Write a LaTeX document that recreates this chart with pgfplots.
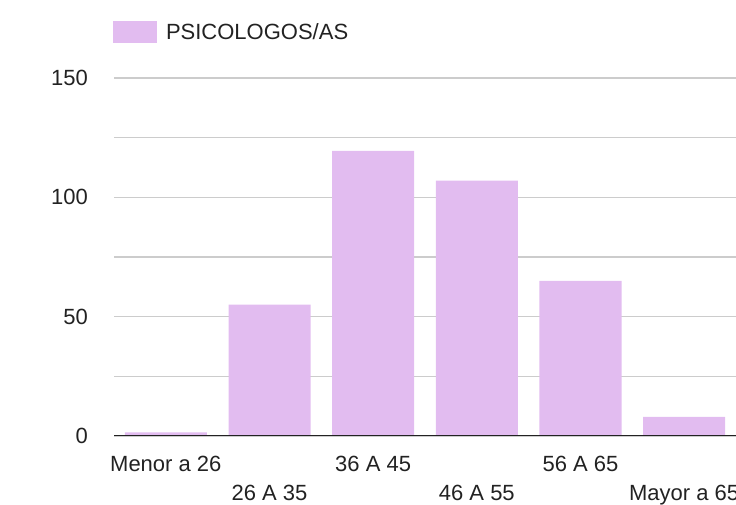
\documentclass[border=0pt]{standalone}
\usepackage{fontspec}
\setmainfont{Liberation Sans}
\usepackage{pgfplots}
\pgfplotsset{compat=1.18}
\definecolor{cBar}{HTML}{E2BCF0}
\definecolor{cInk}{HTML}{222222}
\definecolor{cGrid}{HTML}{CCCCCC}

\begin{document}
\begin{tikzpicture}
% page = 736 x 505 px, 1px = 1pt; the right edge cuts the last label as in the source
\useasboundingbox (0,0) rectangle (736pt,505pt);
\clip (0,0) rectangle (736pt,505pt);
\begin{axis}[
  at={(114pt,69pt)}, anchor=south west,
  scale only axis, width=622pt, height=358pt,
  font=\fontsize{22}{26}\selectfont,
  /pgf/number format/assume math mode=true,
  ybar, bar width=82pt,
  xmin=-0.5, xmax=5.5, ymin=0, ymax=150,
  axis x line*=bottom, axis y line*=left,
  x axis line style={draw=none}, y axis line style={draw=none},
  tick style={draw=none},
  ytick={0,50,100,150}, minor ytick={25,75,125},
  ymajorgrids, yminorgrids,
  major grid style={cGrid, line width=1.3pt},
  minor grid style={cGrid, line width=1.3pt},
  y tick label style={color=cInk, inner sep=0pt, xshift=-26pt},
  x tick label style={color=cInk, inner sep=0pt, yshift=-16pt},
  xtick={0,2,4}, xticklabels={Menor a 26,36 A 45,56 A 65},
  extra x ticks={1,3,5}, extra x tick labels={26 A 35,46 A 55,Mayor a 65},
  extra x tick style={x tick label style={yshift=-29pt}},
  legend style={at={(0,1)}, anchor=west, xshift=-1pt, yshift=46pt,
    draw=none, fill=none, inner sep=0pt, outer sep=0pt,
    font=\fontsize{22}{26}\selectfont, text=cInk},
  legend image code/.code={\fill[#1] (0pt,-11pt) rectangle (44pt,11pt); \path (51pt,0pt);},
]
\addplot[draw=none, fill=cBar] coordinates {(0,1.5) (1,55) (2,119.5) (3,107) (4,65) (5,8)};
\addlegendentry{PSICOLOGOS/AS}
\draw[cInk, line width=1.6pt] (rel axis cs:0,0) -- (rel axis cs:1,0);
\end{axis}
\end{tikzpicture}
\end{document}
